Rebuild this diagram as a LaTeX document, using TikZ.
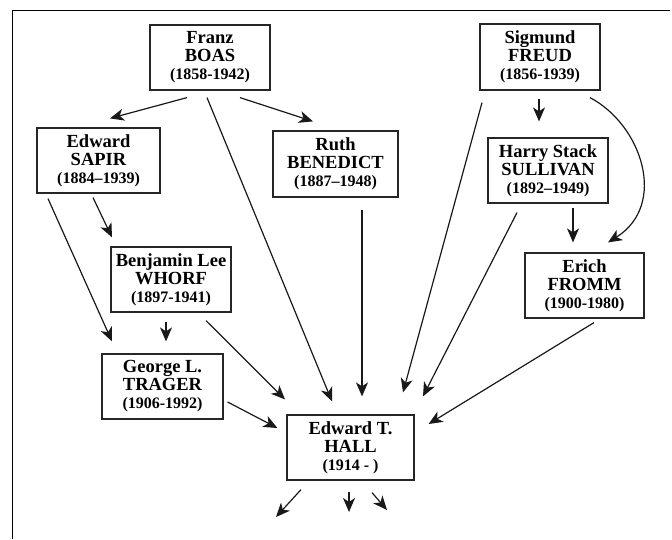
\documentclass[tikz,border=0pt]{standalone}
\usepackage{fontspec}
\setmainfont{Liberation Serif}
\usetikzlibrary{arrows.meta,calc}
\tikzset{
  person/.style={draw=black!85, line width=1.2pt, rectangle, inner sep=0pt, align=center,
    font=\bfseries\fontsize{18.5}{18}\selectfont},
  link/.style={draw=black!90, line width=1.2pt, -{Stealth[length=14pt,width=12pt,inset=4pt]}},
  frame/.style={draw=black, line width=1.8pt}
}
\newcommand{\yrs}[1]{{\fontsize{16}{17}\selectfont #1}}
\begin{document}
\begin{tikzpicture}[x=1pt,y=-1pt]
\useasboundingbox (0,0) rectangle (672,539);
\draw[frame] (12.5,539) -- (12.5,10.5) -- (670,10.5);

\node[person, minimum width=120pt, minimum height=65pt] (boas) at (210,57.5) {Franz\\BOAS\\\yrs{(1858-1942)}};
\node[person, minimum width=120pt, minimum height=66pt] (freud) at (540,57) {Sigmund\\FREUD\\\yrs{(1856-1939)}};
\node[person, minimum width=123pt, minimum height=65pt] (sapir) at (98.5,160.5) {Edward\\SAPIR\\\yrs{(1884--1939)}};
\node[person, minimum width=125pt, minimum height=66pt] (benedict) at (335.5,164) {Ruth\\BENEDICT\\\yrs{(1887--1948)}};
\node[person, minimum width=120pt, minimum height=65pt] (sullivan) at (548,170.5) {Harry Stack\\SULLIVAN\\\yrs{(1892--1949)}};
\node[person, minimum width=120pt, minimum height=65pt] (whorf) at (171,279.5) {Benjamin Lee\\WHORF\\\yrs{(1897-1941)}};
\node[person, minimum width=119pt, minimum height=65pt] (fromm) at (584.5,285.5) {Erich\\FROMM\\\yrs{(1900-1980)}};
\node[person, minimum width=121pt, minimum height=65pt] (trager) at (162.5,386.5) {George L.\\TRAGER\\\yrs{(1906-1992)}};
\node[person, minimum width=127pt, minimum height=65pt] (hall) at (350.5,447.5) {Edward T.\\HALL\\\yrs{(1914 - )}};

\coordinate (out1) at (276,517);
\coordinate (out2) at (349,512);
\coordinate (out3) at (387,510);

\draw[link] ($(boas.south)+(-23,7)$) -- ($(sapir.north)+(11.5,-9)$);
\draw[link] ($(boas.south)+(-3,7)$) -- ($(hall.north)+(-18.5,-13)$);
\draw[link] ($(boas.south)+(30,7)$) -- ($(benedict.north)+(-22.5,-9)$);
\draw[link] ($(freud.south)+(-58,12)$) -- ($(hall.north)+(52.5,-22)$);
\draw[link] ($(freud.south)+(-1,8)$) -- ($(sullivan.north)+(-9,-16)$);
\draw[link] ($(freud.south)+(50,7)$) .. controls (642,125) and (668,205) .. ($(fromm.north)+(23.5,-10)$);
\draw[link] ($(sullivan.south)+(-31,9)$) -- ($(hall.north)+(72.5,-18)$);
\draw[link] ($(sullivan.south)+(25,4)$) -- ($(fromm.north)+(-11.5,-10)$);
\draw[link] ($(fromm.south)+(9.5,4)$) -- ($(hall.east)+(14,-23.5)$);
\draw[link] ($(benedict.south)+(26.5,12)$) -- ($(hall.north)+(11.5,-18)$);
\draw[link] ($(sapir.south)+(-5.5,4)$) -- ($(whorf.north)+(-59,-9)$);
\draw[link] ($(sapir.south)+(-50.5,5)$) -- ($(trager.north)+(-50.5,-12)$);
\draw[link] ($(whorf.south)+(-5,9)$) -- ($(trager.north)+(3.5,-12)$);
\draw[link] ($(whorf.south)+(35,8)$) -- ($(hall.north)+(-65.5,-15)$);
\draw[link] ($(trager.east)+(4,15.5)$) -- ($(hall.west)+(-9,-19.5)$);
\draw[link] ($(hall.south)+(-49.5,9)$) -- (out1);
\draw[link] ($(hall.south)+(-1.5,11)$) -- (out2);
\draw[link] ($(hall.south)+(21.5,12)$) -- (out3);
\end{tikzpicture}
\end{document}
